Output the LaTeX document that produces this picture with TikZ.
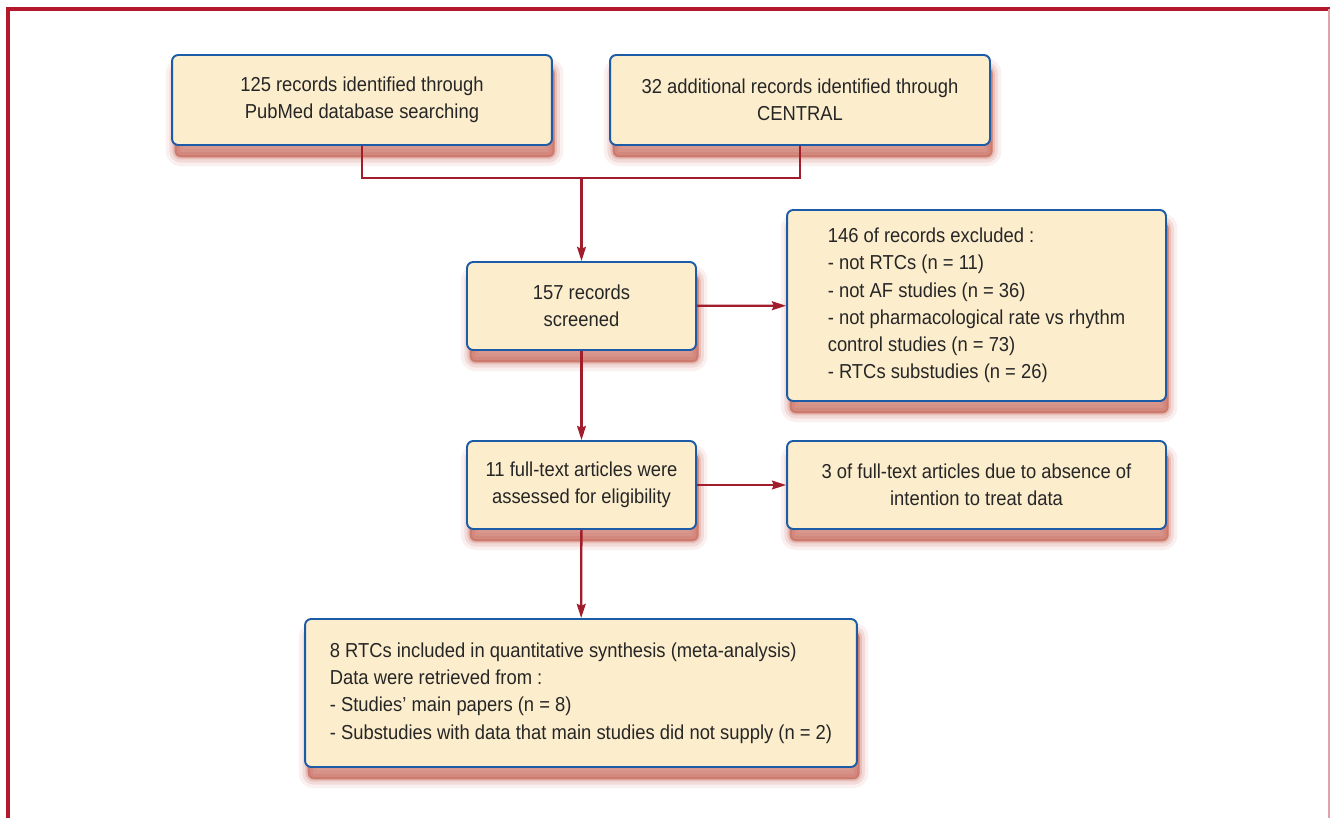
\documentclass[tikz,border=0pt]{standalone}
\usepackage{fontspec}
\setmainfont{Liberation Sans}[FakeStretch=0.91]
\usepackage{tikz}
\usetikzlibrary{arrows.meta}
\usetikzlibrary{shadows}

\definecolor{boxfill}{HTML}{FCEDCD}
\definecolor{boxline}{HTML}{1C5BA6}
\definecolor{linkred}{HTML}{A11D2B}
\definecolor{framered}{HTML}{B3192B}
\definecolor{shadowred}{HTML}{B8402E}

\tikzset{
	softshadow/.style={
		general shadow={shadow xshift=1.5pt, shadow yshift=-7pt, fill=shadowred, draw=shadowred, line width=10pt, opacity=0.08},
		general shadow={shadow xshift=1.5pt, shadow yshift=-7pt, fill=shadowred, draw=shadowred, line width=6pt, opacity=0.12},
		general shadow={shadow xshift=1.5pt, shadow yshift=-7pt, fill=shadowred, draw=shadowred, line width=2.5pt, opacity=0.18},
		general shadow={shadow xshift=1.5pt, shadow yshift=-7pt, fill=shadowred, opacity=0.3}},
	flowbox/.style={softshadow, draw=boxline, line width=1.1pt, fill=boxfill, rounded corners=3.5pt,
		align=center, font=\fontsize{11.5}{15.5}\selectfont, text=black!85},
	link/.style={draw=linkred, line width=1.3pt},
	linkarrow/.style={link, -{Stealth[length=8pt, width=5pt, inset=1pt]}},
}

\begin{document}
\begin{tikzpicture}[x=0.02cm, y=-0.02cm]
\useasboundingbox (0,0) rectangle (1330,818);
% frame
\draw[framered, line width=2.2pt] (8,818) -- (8,9) -- (1330,9);
\draw[framered!40, line width=0.6pt] (1329,9) -- (1329,818);

% boxes
\node[flowbox, minimum width=7.6cm, minimum height=1.8cm] (pubmed) at (362,100)
	{125 records identified through\\PubMed database searching};
\node[flowbox, minimum width=7.6cm, minimum height=1.8cm] (central) at (800,100)
	{32 additional records identified through\\CENTRAL};
\node[flowbox, minimum width=4.58cm, minimum height=1.76cm] (screened) at (581.5,306)
	{157 records\\screened};
\node[flowbox, align=left, minimum width=7.58cm, minimum height=3.82cm] (excluded) at (976.5,305.5)
	{146 of records excluded :\\
	 - not RTCs (n = 11)\\
	 - not AF studies (n = 36)\\
	 - not pharmacological rate vs rhythm\\
	 control studies (n = 73)\\
	 - RTCs substudies (n = 26)};
\node[flowbox, minimum width=4.58cm, minimum height=1.76cm] (fulltext) at (581.5,485)
	{11 full-text articles were\\assessed for eligibility};
\node[flowbox, minimum width=7.58cm, minimum height=1.76cm] (notitt) at (976.5,485)
	{3 of full-text articles due to absence of\\intention to treat data};
\node[flowbox, align=left, minimum width=11.04cm, minimum height=2.96cm] (included) at (581,693)
	{8 RTCs included in quantitative synthesis (meta-analysis)\\
	 Data were retrieved from :\\
	 - Studies' main papers (n = 8)\\
	 - Substudies with data that main studies did not supply (n = 2)};

% connectors
\coordinate (merge) at (581.5,178);
\draw[link] (pubmed.south) |- (merge) -| (central.south);
\draw[linkarrow] (merge) -- (screened);
\draw[linkarrow] (screened) -- (excluded);
\draw[linkarrow] (screened) -- (fulltext);
\draw[linkarrow] (fulltext) -- (notitt);
\draw[linkarrow] (fulltext) -- (included);
\end{tikzpicture}
\end{document}
